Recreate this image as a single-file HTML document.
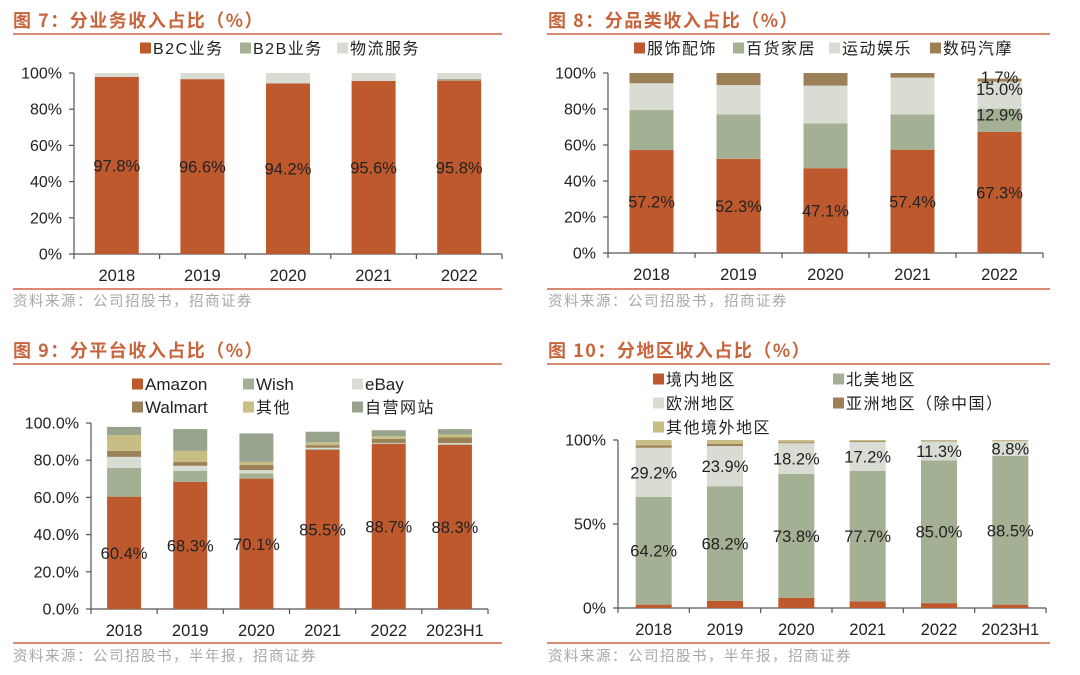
<!DOCTYPE html>
<html><head><meta charset="utf-8">
<style>
body{margin:0;background:#fff;}
svg text{font-family:"Liberation Sans","Noto Sans CJK SC",sans-serif;}
.cjk{font-family:"Noto Sans CJK SC","WenQuanYi Zen Hei",sans-serif !important;}
</style></head>
<body>
<svg id="root" width="1080" height="670" viewBox="0 0 1080 670" xmlns="http://www.w3.org/2000/svg"></svg>
<script>
// ---- Figure 7 data ----
const f7Cats = ["2018","2019","2020","2021","2022"];
const f7B2C = [97.8,96.6,94.2,95.6,95.8];
const f7B2B = [0,0,0,0,0.9];
const f7Log = [2.2,3.4,5.8,4.4,3.3];
const f7Ticks = ["0%","20%","40%","60%","80%","100%"];
// ---- Figure 8 data ----
const f8Cats = ["2018","2019","2020","2021","2022"];
const f8Cloth = [57.2,52.3,47.1,57.4,67.3];
const f8Dept = [22.2,24.7,24.9,19.6,12.9];
const f8Sport = [14.9,16.3,21.0,20.4,15.0];
const f8Digit = [5.7,6.7,7.0,2.6,1.7];
const f8Ticks = ["0%","20%","40%","60%","80%","100%"];
// ---- Figure 9 data ----
const f9Cats = ["2018","2019","2020","2021","2022","2023H1"];
const f9Amazon = [60.4,68.3,70.1,85.5,88.7,88.3];
const f9Wish = [15.5,6.0,2.8,0.5,0.3,0.3];
const f9Ebay = [5.9,2.7,1.8,0.7,0.3,0.6];
const f9Walmart = [3.2,2.0,2.7,1.4,2.2,3.0];
const f9Other = [8.5,6.0,1.7,1.6,1.4,1.6];
const f9Self = [4.4,11.7,15.3,5.6,3.2,2.9];
const f9Ticks = ["0.0%","20.0%","40.0%","60.0%","80.0%","100.0%"];
// ---- Figure 10 data ----
const f10Cats = ["2018","2019","2020","2021","2022","2023H1"];
const f10Domestic = [2.0,4.3,6.1,4.0,2.9,2.0];
const f10NA = [64.2,68.2,73.8,77.7,85.0,88.5];
const f10EU = [29.2,23.9,18.2,17.2,11.3,8.8];
const f10Asia = [1.3,1.2,0.6,0.5,0.4,0.3];
const f10Other = [3.3,2.4,1.3,0.6,0.4,0.4];
const f10Ticks = ["0%","50%","100%"];

const NS="http://www.w3.org/2000/svg";
const root=document.getElementById('root');
const C={red:"#BE592D",green:"#A3B093",light:"#D8DCD2",brown:"#9C8158",khaki:"#C7BE86",dgreen:"#97A38C"};
function mk(tag,attrs,parent){const e=document.createElementNS(NS,tag);for(const k in attrs)e.setAttribute(k,attrs[k]);(parent||root).appendChild(e);return e;}
function txt(s,x,y,attrs,parent){const e=mk('text',Object.assign({x:x,y:y},attrs),parent);e.textContent=s;return e;}

function header(title,x,y,name){
  const t=txt(title,x,y,{fill:"#C8643C","font-size":"18","font-weight":"bold","letter-spacing":"1.5",class:"cjk"});
  
  
}
function rule(x0,x1,y,name){
  const l=mk('line',{x1:x0,x2:x1,y1:y,y2:y,stroke:"#D98A70","stroke-width":"2"});
  
  
}
function source(s,x,y,name){
  const t=txt(s,x,y,{fill:"#A8A8A8","font-size":"14.5","letter-spacing":"1.5",class:"cjk"});
  
  
}
function legend(items,name){
  items.forEach(it=>{
    const g=mk('g',{});
    
    
    mk('rect',{x:it.x,y:it.y-5.5,width:11,height:11,fill:it.c},g);
    txt(it.t,it.x+13,it.y+6,{fill:"#222","font-size":it.fs||16,"letter-spacing":(it.ls!==undefined?it.ls:"1.5")},g);
  });
}
function chart(cfg){
  const g=mk('g',{});
  
  
  const n=cfg.cats.length, step=(cfg.x1-cfg.x0)/n;
  const yS=v=>cfg.yb-(v/cfg.max)*(cfg.yb-cfg.yt);
  const xC=i=>cfg.x0+step*(i+0.5);
  mk('line',{x1:cfg.x0,x2:cfg.x0,y1:cfg.yt,y2:cfg.yb,stroke:"#555","stroke-width":"1.2"},g);
  mk('line',{x1:cfg.x0,x2:cfg.x1,y1:cfg.yb,y2:cfg.yb,stroke:"#555","stroke-width":"1.2"},g);
  cfg.ticks.forEach((t,i)=>{
    const v=cfg.max*i/(cfg.ticks.length-1), y=yS(v);
    mk('line',{x1:cfg.x0-5,x2:cfg.x0,y1:y,y2:y,stroke:"#555","stroke-width":"1.2"},g);
    const tl=txt(t,cfg.x0-12,y+5.5,{fill:"#222","font-size":"16","text-anchor":"end"},g);
    
    
  });
  for(let i=0;i<=n;i++){const x=cfg.x0+step*i;mk('line',{x1:x,x2:x,y1:cfg.yb,y2:cfg.yb+5,stroke:"#555","stroke-width":"1.2"},g);}
  cfg.cats.forEach((c,i)=>{
    const tl=txt(c,xC(i),cfg.yb+27,{fill:"#222","font-size":"16.5","text-anchor":"middle"},g);
    
    
    let base=0;
    cfg.series.forEach(s=>{
      const v=s.data[i];
      if(v>0){
        const r=mk('rect',{x:xC(i)-cfg.bw/2,y:yS(base+v),width:cfg.bw,height:yS(base)-yS(base+v),fill:s.c},g);
        
        
      }
      if(s.label && s.label(i)){
        const lt=txt(v.toFixed(1)+"%",xC(i),yS(base+v/2)+6+(s.dy||0),{fill:"#222","font-size":"16.5","text-anchor":"middle"},g);
        
        
      }
      base+=v;
    });
  });
}

// Figure 7
header("图 7：分业务收入占比（%）",13,27,"fig7");
rule(13,502,34,"fig7-title-rule");
legend([{x:140,y:48,c:C.red,t:"B2C业务"},{x:240,y:48,c:C.green,t:"B2B业务"},{x:337,y:48,c:C.light,t:"物流服务"}],"fig7-legend");
chart({name:"fig7-chart",cats:f7Cats,x0:74,x1:502,yt:73,yb:254,max:100,bw:44,ticks:f7Ticks,
  series:[{data:f7B2C,c:C.red,label:()=>true},{data:f7B2B,c:C.green},{data:f7Log,c:C.light}]});
rule(13,502,289,"fig7-source-rule");
source("资料来源：公司招股书，招商证券",13,306,"fig7-source");

// Figure 8
header("图 8：分品类收入占比（%）",548,27,"fig8");
rule(547,1050,34,"fig8-title-rule");
legend([{x:634,y:48,c:C.red,t:"服饰配饰"},{x:733,y:48,c:C.green,t:"百货家居"},{x:829,y:48,c:C.light,t:"运动娱乐"},{x:930,y:48,c:C.brown,t:"数码汽摩"}],"fig8-legend");
chart({name:"fig8-chart",cats:f8Cats,x0:608,x1:1043,yt:73,yb:253,max:100,bw:44,ticks:f8Ticks,
  series:[{data:f8Cloth,c:C.red,label:()=>true},{data:f8Dept,c:C.green,label:i=>i===4,dy:-6},
          {data:f8Sport,c:C.light,label:i=>i===4,dy:-6},{data:f8Digit,c:C.brown,label:i=>i===4,dy:-3}]});
rule(547,1050,289,"fig8-source-rule");
source("资料来源：公司招股书，招商证券",548,306,"fig8-source");

// Figure 9
header("图 9：分平台收入占比（%）",13,357,"fig9");
rule(13,502,364,"fig9-title-rule");
legend([{x:132,y:384,c:C.red,t:"Amazon",fs:17,ls:0},{x:243,y:384,c:C.green,t:"Wish",fs:17,ls:0},{x:352,y:384,c:C.light,t:"eBay",fs:17,ls:0},
        {x:132,y:407,c:C.brown,t:"Walmart",fs:17,ls:0},{x:243,y:407,c:C.khaki,t:"其他"},{x:352,y:407,c:C.dgreen,t:"自营网站"}],"fig9-legend");
chart({name:"fig9-chart",cats:f9Cats,x0:91,x1:488,yt:423,yb:609,max:100,bw:34,ticks:f9Ticks,
  series:[{data:f9Amazon,c:C.red,label:()=>true},{data:f9Wish,c:C.green},{data:f9Ebay,c:C.light},
          {data:f9Walmart,c:C.brown},{data:f9Other,c:C.khaki},{data:f9Self,c:C.dgreen}]});
rule(13,502,643,"fig9-source-rule");
source("资料来源：公司招股书，半年报，招商证券",13,661,"fig9-source");

// Figure 10
header("图 10：分地区收入占比（%）",548,357,"fig10");
rule(547,1050,364,"fig10-title-rule");
legend([{x:653,y:379,c:C.red,t:"境内地区"},{x:833,y:379,c:C.green,t:"北美地区"},{x:653,y:403,c:C.light,t:"欧洲地区"},
        {x:833,y:403,c:C.brown,t:"亚洲地区（除中国）"},{x:653,y:427,c:C.khaki,t:"其他境外地区"}],"fig10-legend");
chart({name:"fig10-chart",cats:f10Cats,x0:618,x1:1046,yt:440,yb:608,max:100,bw:36,ticks:f10Ticks,
  series:[{data:f10Domestic,c:C.red},{data:f10NA,c:C.green,label:()=>true},{data:f10EU,c:C.light,label:()=>true},
          {data:f10Asia,c:C.brown},{data:f10Other,c:C.khaki}]});
rule(547,1050,643,"fig10-source-rule");
source("资料来源：公司招股书，半年报，招商证券",548,661,"fig10-source");
</script>
</body></html>
